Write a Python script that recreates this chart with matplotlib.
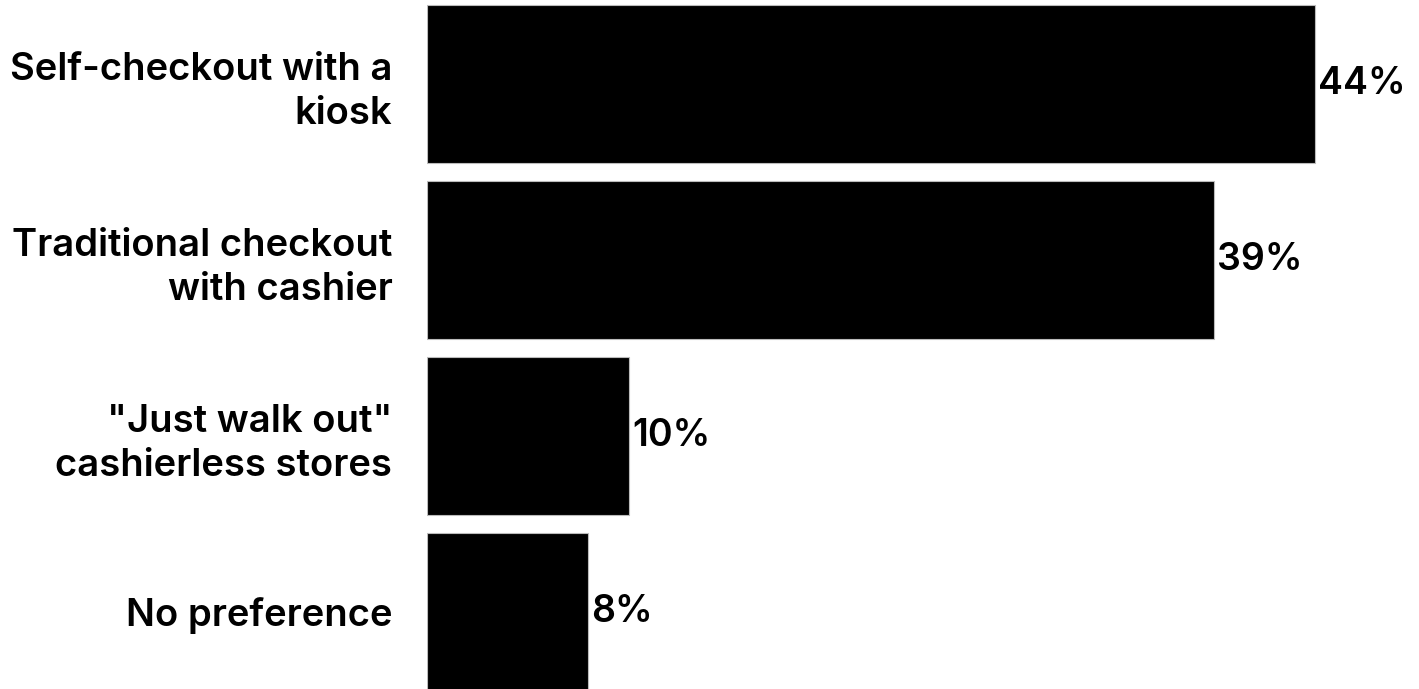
import matplotlib
matplotlib.use("Agg")
import matplotlib.pyplot as plt

categories = ["Self-checkout with a\nkiosk",
              "Traditional checkout\nwith cashier",
              "\"Just walk out\"\ncashierless stores",
              "No preference"]
values = [44, 39, 10, 8]
value_labels = ["44%", "39%", "10%", "8%"]

plt.rcParams['font.family'] = ['Inter', 'DejaVu Sans']

fig = plt.figure(figsize=(14.19, 6.89), dpi=100)
ax = fig.add_axes([427 / 1419, 0, 1 - 427 / 1419, 1])

ypos = list(range(len(categories)))
ax.barh(ypos, values, height=0.898, color='black', edgecolor='#bbbbbb', linewidth=0.8)

for y, v, lab in zip(ypos, values, value_labels):
    ax.text(v + 0.15, y, lab, va='center', ha='left', fontsize=27, fontweight='semibold')

ax.set_yticks(ypos)
ax.set_yticklabels(categories, fontsize=27.5, fontweight='semibold', linespacing=1.3)
ax.tick_params(axis='y', length=0, pad=25)
ax.set_xticks([])
ax.set_xlim(0, (1419 - 427) / 20.18)
ax.set_ylim(3.4375, -0.477)
for s in ax.spines.values():
    s.set_visible(False)

fig.savefig("out.png", dpi=100)
